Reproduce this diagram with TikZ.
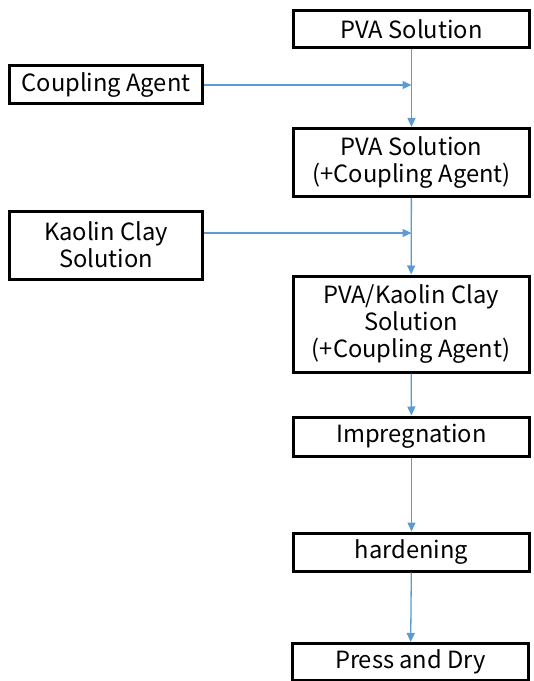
\documentclass[tikz,border=0pt]{standalone}
\usepackage{fontspec}
\setmainfont{Noto Sans CJK KR}
\usetikzlibrary{positioning,arrows.meta}
\definecolor{flowblue}{RGB}{91,155,213}

\begin{document}
\begin{tikzpicture}[
        x=1bp, y=-1bp,
        font=\fontsize{23.8}{27}\selectfont,
        procbox/.style={draw, line width=3bp, align=center, minimum width=236bp, inner sep=0pt},
        feedbox/.style={draw, line width=3bp, align=center, minimum width=193bp, inner sep=0pt},
        flow/.style={draw=flowblue, line width=1.3bp, -{Triangle[length=9bp,width=8bp]}}
        ]
        \useasboundingbox (0,0) rectangle (534,681);
        % Nodes
        \node[procbox, minimum height=37bp] (pva) at (411.5,29.5) {PVA Solution};
        \node[feedbox, minimum height=38bp] (coupling) at (106,85) {Coupling Agent};
        \node[procbox, minimum height=68bp] (pvacpl) at (411.5,162.5) {PVA Solution\\(+Coupling Agent)};
        \node[feedbox, minimum height=68bp] (kaolin) at (106,245) {Kaolin Clay\\Solution};
        \node[procbox, minimum height=96bp] (pvakaolin) at (411,324) {PVA/Kaolin Clay\\Solution\\(+Coupling Agent)};
        \node[procbox, minimum height=39bp] (impreg) at (411.5,436.5) {Impregnation};
        \node[procbox, minimum height=38bp] (harden) at (411.5,552) {hardening};
        \node[procbox, minimum height=37bp] (press) at (410.5,662) {Press and Dry};
        \coordinate (mix1) at (pva.south |- coupling.east);
        \coordinate (mix2) at (411.5,233);

        % Arrows
        \draw[flow] (coupling) -- (mix1);
        \draw[flow] (kaolin.east |- mix2) -- (mix2);
        \draw[flow] (pva) -- (pvacpl);
        \draw[flow] (pvacpl) -- (pvakaolin);
        \draw[flow] (pvakaolin) -- (impreg);
        \draw[flow] (impreg) -- (harden);
        \draw[flow] (harden) -- (press);
    \end{tikzpicture}
\end{document}
